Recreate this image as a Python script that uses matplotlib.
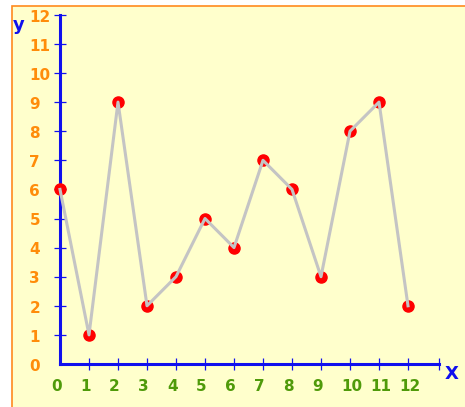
# Line chart with red points on a pale yellow panel, blue axes through origin

import matplotlib.pyplot as plt
from matplotlib.patches import Rectangle

x_vals = [0, 1, 2, 3, 4, 5, 6, 7, 8, 9, 10, 11, 12]
y_vals = [6, 1, 9, 2, 3, 5, 4, 7, 6, 3, 8, 9, 2]
x_ticks = list(range(0, 13))
y_ticks = list(range(0, 13))

W, H = 465, 407
fig = plt.figure(figsize=(W / 100, H / 100), dpi=100)
fig.patch.set_facecolor('white')

ax = fig.add_axes([0, 0, 1, 1])
ax.set_facecolor('none')

# pale yellow panel with orange frame (only left/top edges inside the image)
ax.add_patch(Rectangle((12 / W, -0.2), 1.5, 1.2 - 6 / H,
                       transform=ax.transAxes, facecolor='#ffffcc',
                       edgecolor='#ff8a1e', linewidth=1.2, zorder=0,
                       clip_on=False))

# pixel mapping: origin at (60, 364), ~29 px per unit
px_x, px_y = 29.0, 29.1
ax.set_xlim(-60 / px_x, (W - 60) / px_x)
ax.set_ylim(-(H - 364) / px_y, 364 / px_y)

blue = '#1010ee'
for side in ['top', 'right']:
    ax.spines[side].set_visible(False)
ax.spines['left'].set_position(('data', 0))
ax.spines['bottom'].set_position(('data', 0))
ax.spines['left'].set_bounds(0, 12)
ax.spines['bottom'].set_bounds(0, 13.07)
for side in ['left', 'bottom']:
    ax.spines[side].set_color(blue)
    ax.spines[side].set_linewidth(2.2)

ax.set_xticks(x_ticks)
ax.set_yticks(y_ticks)
ax.set_xticks([13.07], minor=True)
ax.tick_params(which='both', direction='inout', length=8.6, width=0.9,
               color=blue, labelbottom=False, labelleft=False)
ax.xaxis.get_major_ticks()[0].tick1line.set_visible(False)
ax.yaxis.get_major_ticks()[0].tick1line.set_visible(False)

# tick labels are left-aligned in the original, placed by hand
for v in x_ticks:
    ax.annotate(str(v), xy=(v, 0), xytext=(-6.6, -16.2), textcoords='offset points',
                ha='left', va='center', fontsize=11, fontweight='bold',
                color='#4f9a0a', annotation_clip=False)
for v in y_ticks:
    ax.annotate(str(v), xy=(0, v), xytext=(-22.0, -1.6), textcoords='offset points',
                ha='left', va='center', fontsize=11, fontweight='bold',
                color='#ff8c0a', annotation_clip=False)

# data: red markers under a grey line
ax.plot(x_vals, y_vals, linestyle='none', marker='o', markersize=8,
        color='#ff0000', zorder=3, clip_on=False)
ax.plot(x_vals, y_vals, color='#c4c4c4', linewidth=2.2, zorder=4,
        solid_joinstyle='round', clip_on=False)

# axis names
ax.text(18.5 / W, 1 - 25 / H, 'y', transform=fig.transFigure, color=blue,
        fontsize=13, fontweight='bold', ha='center', va='center')
ax.text(452 / W, 1 - 374 / H, 'X', transform=fig.transFigure, color=blue,
        fontsize=13, fontweight='bold', ha='center', va='center')

fig.savefig('out.png', dpi=100)
